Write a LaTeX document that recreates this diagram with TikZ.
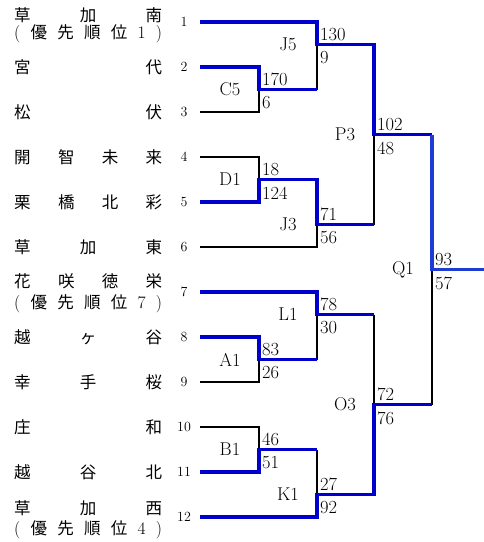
\documentclass[tikz,border=0pt]{standalone}
\usepackage{fontspec}
\newfontfamily\jpfont{Noto Sans CJK JP}
\definecolor{wb}{RGB}{0,0,204}
\definecolor{qb}{RGB}{30,60,210}
\newcommand\spread[1]{\makebox[148pt][s]{#1}}
\newcommand\lm[1]{{\rmfamily\fontsize{17.5}{17.5}\selectfont #1}}
\tikzset{
  win/.style={draw=wb, line width=3.6pt},
  qwin/.style={draw=qb, line width=3.6pt},
  lose/.style={draw=black, line width=1.5pt},
  team/.style={anchor=west, inner sep=0pt, font=\jpfont\fontsize{16.5}{16.5}\selectfont},
  seed/.style={inner sep=0pt, font=\fontsize{14}{14}\selectfont},
  mlabel/.style={inner sep=0pt, font=\fontsize{18.5}{18.5}\selectfont},
  stop/.style={anchor=south west, inner sep=0pt, font=\fontsize{18.5}{18.5}\selectfont},
  sbot/.style={anchor=north west, inner sep=0pt, font=\fontsize{18.5}{18.5}\selectfont},
}
\begin{document}
\begin{tikzpicture}[x=1pt,y=-1pt]
\useasboundingbox (0,0) rectangle (484,542);
% row start points
\foreach \k in {1,...,12}{
  \coordinate (r\k) at (200,{22+45*(\k-1)});
  \node[seed] (s\k) at (184,{22+45*(\k-1)}) {\k};
}
% match junctions
\coordinate (C5) at (259,89.5);
\coordinate (D1) at (259,179.5);
\coordinate (A1) at (259,359.5);
\coordinate (B1) at (259,449.5);
\coordinate (J5) at (317,44.5);
\coordinate (J3) at (317,224.5);
\coordinate (L1) at (317,314.5);
\coordinate (K1) at (317,494.5);
\coordinate (P3) at (374,134.5);
\coordinate (O3) at (374,404.5);
\coordinate (Q1) at (432,269.5);
\coordinate (end) at (484,269.5);

% team names
\node[team] (n1a) at (14,15) {\spread{草\hfill 加\hfill 南}};
\node[team] (n1b) at (14,33.5) {\spread{\lm{(}\hfill 優\hfill 先\hfill 順\hfill 位\hfill \lm{1}\hfill \lm{)}}};
\node[team] (n2) at (14,67) {\spread{宮\hfill 代}};
\node[team] (n3) at (14,112) {\spread{松\hfill 伏}};
\node[team] (n4) at (14,157) {\spread{開\hfill 智\hfill 未\hfill 来}};
\node[team] (n5) at (14,202) {\spread{栗\hfill 橋\hfill 北\hfill 彩}};
\node[team] (n6) at (14,247) {\spread{草\hfill 加\hfill 東}};
\node[team] (n7a) at (14,281.5) {\spread{花\hfill 咲\hfill 徳\hfill 栄}};
\node[team] (n7b) at (14,304) {\spread{\lm{(}\hfill 優\hfill 先\hfill 順\hfill 位\hfill \lm{7}\hfill \lm{)}}};
\node[team] (n8) at (14,337) {\spread{越\hfill ヶ\hfill 谷}};
\node[team] (n9) at (14,382) {\spread{幸\hfill 手\hfill 桜}};
\node[team] (n10) at (14,427) {\spread{庄\hfill 和}};
\node[team] (n11) at (14,472) {\spread{越\hfill 谷\hfill 北}};
\node[team] (n12a) at (14,508.5) {\spread{草\hfill 加\hfill 西}};
\node[team] (n12b) at (14,530) {\spread{\lm{(}\hfill 優\hfill 先\hfill 順\hfill 位\hfill \lm{4}\hfill \lm{)}}};

% losing (black) segments
\draw[lose] (r3) -| (C5);
\draw[lose] (C5 -| J5) -- (J5);
\draw[lose] (r4) -| (D1);
\draw[lose] (r6) -| (J3);
\draw[lose] (J3 -| P3) -- (P3);
\draw[lose] (r9) -| (A1);
\draw[lose] (A1 -| L1) -- (L1);
\draw[lose] (L1 -| O3) -- (O3);
\draw[lose] (r10) -| (B1);
\draw[lose] (B1 -| K1) -- (K1);
\draw[lose] (O3 -| Q1) -- (Q1);

% winning (blue) segments
\draw[win] (r1) -| (J5) -| (P3) -- (P3 -| Q1);
\draw[qwin] (P3 -| Q1) -- (Q1) -- (end);
\draw[win] (r2) -| (C5) -- (C5 -| J5);
\draw[win] (r5) -| (D1) -- (D1 -| J3) -- (J3) -- (J3 -| P3);
\draw[win] (r7) -| (L1) -- (L1 -| O3);
\draw[win] (r8) -| (A1) -- (A1 -| L1);
\draw[win] (r11) -| (B1) -- (B1 -| K1);
\draw[win] (r12) -| (K1) -- (K1 -| O3) -- (O3) -- (O3 -| Q1);

% match labels
\foreach \m/\t in {C5/C5, D1/D1, A1/A1, B1/B1, J5/J5, J3/J3, L1/L1, K1/K1, P3/P3, O3/O3, Q1/Q1}{
  \node[mlabel] (lab\m) at ([xshift=-29pt]\m) {\t};
}
% scores
\foreach \m/\a/\b in {C5/170/6, D1/18/124, A1/83/26, B1/46/51, J5/130/9, J3/71/56, L1/78/30, K1/27/92, P3/102/48, O3/72/76, Q1/93/57}{
  \node[stop] (sa\m) at ([xshift=3pt,yshift=3.5pt]\m) {\a};
  \node[sbot] (sb\m) at ([xshift=3pt,yshift=-7pt]\m) {\b};
}
\end{tikzpicture}
\end{document}
